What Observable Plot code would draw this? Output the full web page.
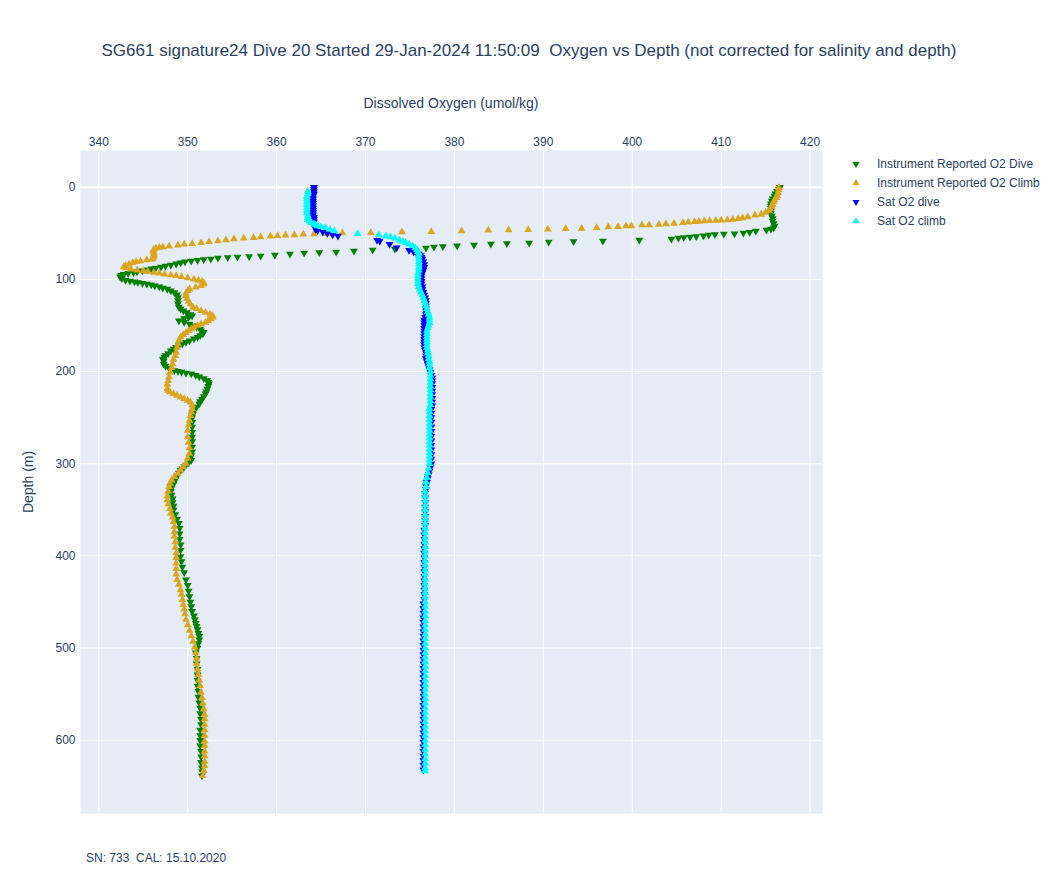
<!DOCTYPE html>
<html><head><meta charset="utf-8">
<script src="https://cdn.jsdelivr.net/npm/d3@7"></script>
<script src="https://cdn.jsdelivr.net/npm/@observablehq/plot@0.6"></script>
<style>
body{margin:0;background:#fff;font-family:"Liberation Sans",Arial,sans-serif;color:#2a3f5f}
#wrap{position:relative;width:1058px;height:894px;overflow:hidden}
#wrap > svg{position:absolute;left:0;top:0}
.t{position:absolute;white-space:pre;color:#2a3f5f}
</style></head><body><div id="wrap"></div>
<script>
// ---- texts ----
const titleText = "SG661 signature24 Dive 20 Started 29-Jan-2024 11:50:09  Oxygen vs Depth (not corrected for salinity and depth)";
const xLabel = "Dissolved Oxygen (umol/kg)";
const yLabel = "Depth (m)";
const captionText = "SN: 733  CAL: 15.10.2020";
const seriesNames = ["Instrument Reported O2 Dive", "Instrument Reported O2 Climb", "Sat O2 dive", "Sat O2 climb"];
const seriesColors = ["green", "goldenrod", "blue", "cyan"];
const xTicks = [340, 350, 360, 370, 380, 390, 400, 410, 420];
const yTicks = [0, 100, 200, 300, 400, 500, 600];

// ---- data: [depth (m), O2 (umol/kg)] ----
const o2Dive = [
[0,416.6],[2,416.5],[4.3,416.3],[7,416.1],[9.7,416.0],[12.5,415.8],[15.1,415.7],[18,415.6],[20.5,415.6],[23,415.6],
[25.9,415.6],[28.5,415.6],[31.4,415.7],[34,415.8],[36.8,415.8],[39.5,415.9],[42.2,416.0],[44,415.9],[45.4,415.6],[46.5,415.1],
[47.6,413.9],[48.8,413.2],[49.7,412.5],[50.4,411.5],[50.8,410.3],[51.4,409.3],[52,408.6],[52.7,408.0],[53.5,407.2],[54.1,406.5],
[54.6,405.8],[55.1,405.2],[56.2,404.4],[57.3,400.8],[58.4,396.7],[58.9,393.4],[59.5,390.6],[60.5,388.4],[61,385.9],[61.6,384.1],
[62.7,382.2],[63.5,380.3],[64.3,378.7],[64.9,377.7],[65.9,376.8],[67,373.3],[68.1,370.8],[69.2,368.7],[70.3,366.7],[70.8,364.8],
[71.3,363.1],[72.4,361.5],[73.5,359.8],[74.6,358.2],[75.1,356.9],[75.7,355.6],[76.3,354.5],[76.8,353.4],[77.8,352.6],[78.4,351.8],
[79.2,351.1],[80,350.4],[81,349.7],[82,349.2],[83.2,348.7],[84.3,348.1],[85.5,347.5],[86.5,347.0],[87.6,346.4],[88.6,345.9],
[89.7,345.5],[90.7,344.9],[91.8,344.3],[92.6,343.9],[93.5,343.3],[94.4,342.8],[95.5,342.5],[97.3,342.4],[99,342.6],[100.9,343.0],
[101.8,343.5],[102.7,344.0],[103.5,344.4],[104.1,344.9],[105,345.4],[105.9,345.9],[107,346.3],[108.1,346.8],[109.3,347.2],[110.6,347.7],
[112.4,348.1],[114.2,348.5],[116.8,348.8],[119.6,348.9],[123,348.9],[126.5,348.9],[130,349.0],[132,349.2],[134,349.5],[136,349.9],
[138,350.3],[139.4,350.5],[141,350.1],[142.5,349.6],[144.9,349.0],[146.5,349.6],[148.4,350.2],[150.3,350.6],[152,351.0],[153.8,351.4],
[155.7,351.5],[157.5,351.8],[159,351.7],[161,351.4],[162.9,351.1],[164.5,350.7],[166.5,350.2],[168.3,349.8],[170,349.4],[171.8,349.0],
[173.7,348.7],[175.5,348.4],[177.5,348.1],[180.5,347.8],[182.7,347.5],[184.5,347.4],[186.3,347.2],[188.5,347.3],[191.7,347.3],[194,347.5],
[196.5,347.9],[198.9,348.5],[199.8,348.9],[200.6,349.3],[201.5,349.8],[202.5,350.4],[204,350.9],[205.6,351.3],[207.6,351.8],[209.7,352.2],
[211.5,352.3],[213.3,352.4],[216,352.3],[219,352.2],[222,352.1],[224.1,352.0],[227,351.8],[230,351.6],[232.5,351.4],[234.9,351.3],
[238.5,351.0],[242.1,350.7],[246,350.6],[250,350.5],[255,350.5],[260.2,350.5],[266,350.5],[271,350.5],[276,350.5],[281.8,350.5],
[287,350.5],[291.5,350.4],[296.2,350.4],[299,350.1],[301.5,349.8],[303.4,349.6],[305.5,349.4],[307,349.2],[310,349.0],[313,348.8],
[317.8,348.6],[322,348.4],[326,348.2],[330,348.1],[334,348.2],[338,348.3],[342,348.3],[346,348.4],[350.2,348.4],[355,348.6],
[360,348.8],[364.6,349.0],[370,349.1],[376,349.1],[382,349.1],[388,349.2],[394,349.2],[400.7,349.2],[406,349.3],[412,349.4],
[418,349.6],[425.9,349.8],[432,350.0],[438,350.1],[444,350.2],[450,350.3],[454.8,350.4],[460,350.5],[465,350.7],[469,350.8],
[473,350.9],[476.4,351.0],[480,351.1],[484,351.2],[487.2,351.3],[491,351.3],[495,351.2],[500,351.1],[505.2,350.9],[511,351.0],
[517,351.0],[523,351.1],[529,351.1],[535,351.1],[541.3,351.1],[547,351.2],[553,351.2],[559.3,351.3],[565,351.4],[571,351.4],
[577.3,351.5],[583,351.5],[589,351.4],[595,351.4],[600,351.4],[606.1,351.4],[612,351.5],[618,351.5],[624,351.5],[630,351.6],
[634,351.6],[638.6,351.6]
];
const o2Climb = [
[0.7,416.5],[3,416.5],[6,416.4],[9,416.3],[11.5,416.2],[14,416.0],[16,415.9],[18.7,415.8],[21,415.7],[23.5,415.5],
[25.9,415.4],[27.5,415.0],[29.5,414.5],[30.5,413.8],[32.4,413.0],[33.3,412.4],[34.2,411.9],[35,411.3],[35.7,410.7],[36,410.0],
[36.2,409.4],[36.5,408.7],[36.8,408.1],[37.2,407.5],[37.5,407.0],[38,406.3],[38.6,405.7],[39.3,404.7],[40,403.8],[40.4,403.0],
[41.1,401.9],[41.1,401.1],[42.2,399.9],[42.2,399.3],[42.9,398.4],[43.2,397.3],[44,396.0],[44.7,394.3],[45.1,392.5],[45.7,390.5],
[46.1,388.3],[46.5,386.1],[46.8,383.8],[47.6,380.8],[48.3,377.4],[48.6,374.1],[49.4,370.6],[49.7,367.4],[50.5,365.7],[50.8,364.2],
[51.1,363.0],[51.9,362.0],[52.2,361.0],[52.6,360.1],[53.3,359.3],[54.1,358.2],[54.8,357.4],[55.5,356.3],[56.2,355.2],[57.3,354.3],
[58.4,353.4],[59.1,352.4],[60.2,351.5],[61.3,350.5],[62,349.6],[63.1,348.9],[64.1,347.9],[64.9,347.2],[65.5,346.8],[66.3,346.4],
[67.5,346.2],[69.2,346.1],[71,346.2],[73,346.2],[74.6,346.2],[76.5,346.1],[78.2,346.0],[79,345.4],[80,344.7],[81,344.2],
[82,343.8],[83.6,343.4],[85,343.0],[86.5,342.8],[87.5,343.1],[89,343.6],[90,344.3],[90.8,345.0],[91.5,345.5],[92.5,346.2],
[93.5,346.8],[94.4,347.4],[95.3,348.1],[96.2,348.7],[97.3,349.3],[98.5,350.0],[99.8,350.7],[101,351.2],[102.2,351.6],[103.4,351.8],
[105,351.8],[107,351.5],[108.5,350.9],[110.6,350.2],[112.4,350.0],[115,349.8],[117.8,349.8],[121,349.9],[124,350.1],[127,350.3],
[130.4,350.6],[132,351.0],[134,351.5],[136,352.0],[137.8,352.5],[139.4,352.8],[141,352.8],[143,352.6],[145,352.3],[146.7,352.0],
[148.4,351.5],[150,351.1],[152,350.7],[153.8,350.4],[155.7,350.1],[158,349.8],[160,349.5],[162.9,349.2],[166,349.0],[170,348.9],
[174,348.8],[179,348.7],[183,348.6],[187,348.4],[191.7,348.3],[196,348.2],[201,348.0],[206,347.9],[210,347.8],[214,347.7],
[218.7,347.7],[220.5,347.8],[222.3,348.0],[224,348.4],[226,348.8],[227.8,349.2],[229.5,349.6],[231.5,350.0],[233.2,350.3],[236.7,350.5],
[240.3,350.5],[244,350.4],[248,350.3],[253,350.2],[258,350.1],[264,350.0],[271,350.0],[277,350.1],[283,350.2],[289,350.2],
[294,350.0],[299.8,349.8],[303.4,349.5],[307,349.2],[310.6,348.9],[314.2,348.5],[318,348.2],[321.4,348.0],[325,347.9],[330,347.8],
[335,347.7],[339.4,347.7],[344,347.8],[349,348.0],[353.8,348.1],[358,348.3],[363,348.4],[368.3,348.5],[374,348.5],[379,348.5],
[385,348.6],[391,348.6],[397,348.7],[402,348.7],[408,348.7],[414,348.7],[420,348.7],[426,348.8],[431,349.0],[437,349.2],
[442,349.3],[447.5,349.4],[453,349.5],[458,349.6],[463,349.7],[469,349.8],[475,350.0],[481,350.2],[487,350.4],[493,350.6],
[499,350.8],[505,350.9],[511,351.0],[517,351.0],[523,351.1],[529,351.2],[535,351.3],[541,351.4],[548,351.5],[554,351.6],
[560,351.7],[566,351.8],[572,351.9],[577,351.9],[583,351.9],[589,351.9],[595,351.9],[601,351.9],[606,351.9],[612,351.9],
[617,351.9],[623,351.9],[628,351.9],[633,351.8],[638.6,351.7]
];
const satDive = [
[0,364.2],[2.5,364.2],[5,364.2],[7.5,364.2],[10,364.1],[12.5,364.1],[15,364.1],[17.5,364.1],[20,364.1],[22.5,364.1],
[25,364.1],[27.5,364.1],[30,364.1],[32.5,364.2],[35,364.2],[37.5,364.2],[40,364.2],[42,364.3],[44,364.3],[45.5,364.4],
[47,364.6],[48.5,365.2],[50,365.7],[51.5,366.3],[53,366.9],[57.6,371.3],[58.3,371.6],[62,372.7],[65.6,373.5],[68.4,374.9],
[70,375.4],[71,375.7],[72.5,376.0],[74,376.2],[76,376.3],[78,376.4],[81,376.5],[84,376.6],[87,376.6],[90,376.5],
[93,376.4],[96,376.3],[99,376.3],[102,376.3],[105,376.3],[108,376.4],[111,376.4],[114,376.5],[117,376.6],[120,376.7],
[123,376.8],[126,376.8],[129,376.8],[132,376.8],[135,376.8],[138,376.8],[141,376.7],[144,376.6],[147,376.6],[150,376.6],
[153,376.6],[156,376.6],[159,376.6],[162,376.6],[165,376.6],[168,376.6],[171,376.6],[174,376.6],[177,376.7],[180,376.8],
[183,376.8],[186,376.8],[189,376.9],[192,377.0],[195,377.1],[198,377.2],[201,377.3],[204,377.4],[207,377.5],[210,377.5],
[213,377.5],[217,377.5],[221,377.5],[225,377.5],[229,377.5],[233,377.5],[237,377.5],[241,377.4],[245,377.4],[250,377.4],
[255,377.4],[260,377.4],[265,377.4],[270,377.4],[275,377.4],[280,377.4],[285,377.4],[290,377.4],[295,377.4],[300,377.4],
[304,377.3],[308,377.2],[312,377.1],[316,377.0],[320,376.9],[324,376.8],[328,376.8],[332,376.7],[337,376.7],[342,376.7],
[347,376.7],[352,376.7],[357,376.7],[362,376.7],[367,376.7],[372,376.6],[377,376.6],[382,376.6],[387,376.6],[392,376.6],
[397,376.6],[402,376.6],[407,376.6],[412,376.6],[417,376.6],[422,376.6],[427,376.6],[432,376.6],[437,376.6],[442,376.6],
[447,376.6],[452,376.5],[457,376.5],[462,376.5],[467,376.5],[472,376.5],[477,376.5],[482,376.5],[487,376.5],[492,376.5],
[497,376.5],[502,376.5],[507,376.5],[512,376.5],[517,376.5],[522,376.5],[527,376.5],[532,376.5],[537,376.5],[542,376.5],
[547,376.5],[552,376.5],[557,376.5],[562,376.5],[567,376.5],[572,376.5],[577,376.5],[582,376.5],[587,376.5],[592,376.5],
[597,376.5],[602,376.5],[607,376.5],[612,376.5],[617,376.5],[622,376.5],[627,376.5],[632,376.5]
];
const satClimb = [
[4.3,363.5],[7,363.5],[10,363.4],[13,363.4],[16,363.4],[19,363.4],[22,363.4],[25,363.4],[28,363.4],[31,363.5],
[33,363.5],[35,363.5],[37,363.7],[38.6,363.9],[40,364.2],[41,364.4],[42.2,364.6],[43,365.0],[44,365.5],[46,366.0],
[47.6,366.5],[50.5,369.1],[51.9,371.5],[53,372.3],[54.1,372.8],[55.5,373.3],[57.6,373.8],[59,374.2],[60.2,374.5],[62,374.9],
[63.8,375.3],[66,375.6],[68,375.8],[70,375.9],[72,376.0],[75,376.0],[78,376.0],[81,376.0],[84,376.0],[87,376.0],
[90,376.0],[93,375.9],[96,375.9],[99,375.9],[102,375.9],[105,375.9],[108,376.0],[111,376.1],[114,376.2],[117,376.4],
[120,376.5],[123,376.6],[126,376.7],[129,376.8],[132,376.9],[135,377.0],[138,377.1],[141,377.2],[144,377.2],[147,377.2],
[150,377.1],[153,377.0],[156,376.9],[159,376.9],[162,376.9],[165,376.9],[168,376.9],[171,376.9],[174,376.9],[177,377.0],
[180,377.0],[183,377.1],[186,377.1],[189,377.2],[192,377.2],[196,377.2],[200,377.3],[204,377.3],[208,377.3],[212,377.3],
[216,377.3],[220,377.3],[224,377.3],[228,377.3],[232,377.3],[236,377.3],[240,377.2],[244,377.2],[248,377.2],[252,377.2],
[256,377.2],[260,377.2],[264,377.2],[268,377.2],[272,377.2],[276,377.2],[280,377.2],[284,377.2],[288,377.2],[292,377.2],
[296,377.2],[300,377.2],[305,377.1],[310,377.0],[315,376.9],[320,376.8],[325,376.8],[330,376.7],[335,376.7],[340,376.7],
[345,376.7],[350,376.7],[355,376.7],[360,376.7],[365,376.7],[370,376.7],[375,376.7],[380,376.7],[385,376.7],[390,376.7],
[395,376.7],[400,376.7],[405,376.7],[410,376.7],[415,376.7],[420,376.7],[425,376.7],[430,376.7],[435,376.7],[440,376.7],
[445,376.7],[450,376.7],[455,376.7],[460,376.7],[465,376.7],[470,376.7],[475,376.7],[480,376.7],[485,376.7],[490,376.7],
[495,376.7],[500,376.7],[505,376.7],[510,376.7],[515,376.7],[520,376.7],[525,376.7],[530,376.7],[535,376.7],[540,376.7],
[545,376.7],[550,376.7],[555,376.7],[560,376.7],[565,376.7],[570,376.7],[575,376.7],[580,376.7],[585,376.7],[590,376.7],
[595,376.7],[600,376.7],[605,376.7],[610,376.7],[615,376.7],[620,376.7],[625,376.7],[630,376.7],[633.5,376.7]
];

const FONT = '"Liberation Sans", Arial, sans-serif';
const INK = "#2a3f5f";
const R = 2.9;

function tri(data, color, down) {
  return Plot.dot(data, {
    x: d => d[1], y: d => d[0],
    symbol: "triangle", r: R, fill: color, stroke: "none",
    rotate: down ? 180 : 0
  });
}

const chart = Plot.plot({
  width: 1058, height: 894,
  marginLeft: 80, marginRight: 236, marginTop: 150, marginBottom: 81,
  style: {fontFamily: FONT, fontSize: "12px", color: INK, background: "transparent", overflow: "visible"},
  x: {domain: [337.94, 421.40], label: null},
  y: {domain: [679.5, -39.8], label: null},
  marks: [
    Plot.frame({fill: "#e5ecf6", stroke: "none"}),
    Plot.gridX(xTicks, {stroke: "white", strokeOpacity: 1, strokeWidth: 1}),
    Plot.gridY(yTicks, {stroke: "white", strokeOpacity: 1, strokeWidth: 1}),
    Plot.ruleY([0], {stroke: "white", strokeWidth: 2}),
    Plot.axisX(xTicks, {anchor: "top", tickSize: 0, tickPadding: 5, label: null, fontSize: 12, fill: INK}),
    Plot.axisY(yTicks, {anchor: "left", tickSize: 0, tickPadding: 5, label: null, fontSize: 12, fill: INK}),
    tri(o2Dive, seriesColors[0], true),
    tri(o2Climb, seriesColors[1], false),
    tri(satDive, seriesColors[2], true),
    tri(satClimb, seriesColors[3], false)
  ]
});

const wrap = document.getElementById("wrap");
wrap.appendChild(chart);

function addText(txt, css) {
  const d = document.createElement("div");
  d.className = "t";
  d.textContent = txt;
  Object.assign(d.style, css);
  wrap.appendChild(d);
  return d;
}
addText(titleText, {left: "0px", width: "1058px", textAlign: "center", top: "41px", fontSize: "17px", lineHeight: "20px"});
addText(xLabel, {left: "80px", width: "742px", textAlign: "center", top: "94px", fontSize: "14px", lineHeight: "18px"});
addText(yLabel, {left: "28px", top: "482px", fontSize: "14px", lineHeight: "18px", transform: "translate(-50%,-50%) rotate(-90deg)"});
addText(captionText, {left: "86px", top: "850px", fontSize: "12px", lineHeight: "16px"});

// legend
const sym = d3.symbol(d3.symbolTriangle, Math.PI * 2.6 * 2.6)();
seriesNames.forEach((name, i) => {
  const cy = 164 + i * 19;
  const svg = d3.create("svg").attr("width", 14).attr("height", 14)
    .style("position", "absolute").style("left", (856 - 7) + "px").style("top", (cy - 7) + "px");
  svg.append("path").attr("d", sym).attr("fill", seriesColors[i])
    .attr("transform", `translate(7,7) rotate(${i % 2 === 0 ? 180 : 0})`);
  wrap.appendChild(svg.node());
  addText(name, {left: "877px", top: (cy - 8) + "px", fontSize: "12px", lineHeight: "16px"});
});
</script>
</body></html>
